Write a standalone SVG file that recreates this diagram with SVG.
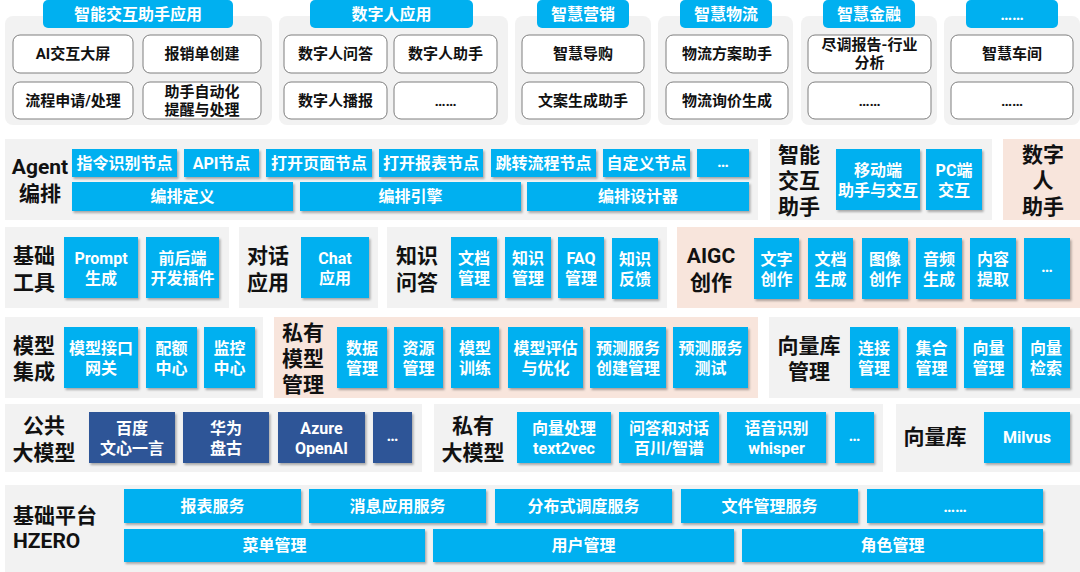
<svg xmlns="http://www.w3.org/2000/svg" width="1080" height="572" viewBox="0 0 1080 572">
<defs>
<filter id="sh" x="-10%" y="-10%" width="130%" height="140%">
<feDropShadow dx="1.5" dy="2" stdDeviation="1" flood-color="#000" flood-opacity="0.3"/>
</filter>
<style>
text{font-family:Roboto,"Noto Sans CJK SC",sans-serif;font-weight:bold;dominant-baseline:central;text-anchor:middle}
.pn{fill:#f2f2f2}
.pc{fill:#f8e5dc}
.hd{fill:#00b0f0}
.b{fill:#00b0f0;filter:url(#sh)}
.nv{fill:#2f5597;filter:url(#sh)}
.w{fill:#fff;stroke:#7f7f7f;stroke-width:1}
.tw{fill:#fff;font-size:16px}
.th{fill:#fff;font-size:16px}
.tk{fill:#111;font-size:15px}
.tl{fill:#111;font-size:21px}
.tls{text-anchor:start}
</style>
</defs>
<rect width="1080" height="572" fill="#fff"/>

<!-- ===== Application layer ===== -->
<g id="app-zhineng">
<rect class="pn" x="5" y="16" width="267" height="109" rx="8"/>
<rect class="hd" x="43" y="0" width="190" height="28" rx="5"/>
<text class="th" x="138" y="14">智能交互助手应用</text>
<rect class="w" x="13" y="35" width="120" height="38" rx="7"/><text class="tk" x="73" y="54">AI交互大屏</text>
<rect class="w" x="143" y="35" width="118" height="38" rx="7"/><text class="tk" x="202" y="54">报销单创建</text>
<rect class="w" x="13" y="82" width="120" height="37" rx="7"/><text class="tk" x="73" y="100.5">流程申请/处理</text>
<rect class="w" x="143" y="82" width="118" height="37" rx="7"/><text class="tk" x="202" y="100.5"><tspan x="202" dy="-9">助手自动化</tspan><tspan x="202" dy="18">提醒与处理</tspan></text>
</g>
<g id="app-shuziren">
<rect class="pn" x="279" y="16" width="229" height="109" rx="8"/>
<rect class="hd" x="310" y="0" width="163" height="28" rx="5"/>
<text class="th" x="391.5" y="14">数字人应用</text>
<rect class="w" x="284" y="35" width="103" height="38" rx="7"/><text class="tk" x="335.5" y="54">数字人问答</text>
<rect class="w" x="394" y="35" width="103" height="38" rx="7"/><text class="tk" x="445.5" y="54">数字人助手</text>
<rect class="w" x="284" y="82" width="103" height="37" rx="7"/><text class="tk" x="335.5" y="100.5">数字人播报</text>
<rect class="w" x="394" y="82" width="103" height="37" rx="7"/><text class="tk" x="445.5" y="100.5">……</text>
</g>
<g id="app-yingxiao">
<rect class="pn" x="515" y="16" width="136" height="109" rx="8"/>
<rect class="hd" x="537" y="0" width="92" height="28" rx="5"/>
<text class="th" x="583" y="14">智慧营销</text>
<rect class="w" x="522" y="35" width="122" height="38" rx="7"/><text class="tk" x="583" y="54">智慧导购</text>
<rect class="w" x="522" y="82" width="122" height="37" rx="7"/><text class="tk" x="583" y="100.5">文案生成助手</text>
</g>
<g id="app-wuliu">
<rect class="pn" x="658" y="16" width="135" height="109" rx="8"/>
<rect class="hd" x="680" y="0" width="92" height="28" rx="5"/>
<text class="th" x="726" y="14">智慧物流</text>
<rect class="w" x="666" y="35" width="122" height="38" rx="7"/><text class="tk" x="727" y="54">物流方案助手</text>
<rect class="w" x="666" y="82" width="122" height="37" rx="7"/><text class="tk" x="727" y="100.5">物流询价生成</text>
</g>
<g id="app-jinrong">
<rect class="pn" x="801" y="16" width="136" height="109" rx="8"/>
<rect class="hd" x="823" y="0" width="92" height="28" rx="5"/>
<text class="th" x="869" y="14">智慧金融</text>
<rect class="w" x="808" y="35" width="123" height="38" rx="7"/><text class="tk" x="869.5" y="54"><tspan x="869.5" dy="-9">尽调报告-行业</tspan><tspan x="869.5" dy="18">分析</tspan></text>
<rect class="w" x="808" y="82" width="123" height="37" rx="7"/><text class="tk" x="869.5" y="100.5">……</text>
</g>
<g id="app-more">
<rect class="pn" x="944" y="16" width="136" height="109" rx="8"/>
<rect class="hd" x="966" y="0" width="92" height="28" rx="5"/>
<text class="th" x="1012" y="14">……</text>
<rect class="w" x="951" y="35" width="122" height="38" rx="7"/><text class="tk" x="1012" y="54">智慧车间</text>
<rect class="w" x="951" y="82" width="122" height="37" rx="7"/><text class="tk" x="1012" y="100.5">……</text>
</g>

<!-- ===== Agent row ===== -->
<g id="agent">
<rect class="pn" x="5" y="139" width="753" height="81"/>
<text class="tl" x="40" y="167">Agent</text>
<text class="tl" x="40" y="194">编排</text>
<rect class="b" x="72" y="149" width="105" height="28"/><text class="tw" x="124.5" y="163">指令识别节点</text>
<rect class="b" x="184" y="149" width="75" height="28"/><text class="tw" x="221.5" y="163">API节点</text>
<rect class="b" x="266" y="149" width="106" height="28"/><text class="tw" x="319" y="163">打开页面节点</text>
<rect class="b" x="379" y="149" width="104" height="28"/><text class="tw" x="431" y="163">打开报表节点</text>
<rect class="b" x="491" y="149" width="105" height="28"/><text class="tw" x="543.5" y="163">跳转流程节点</text>
<rect class="b" x="603" y="149" width="87" height="28"/><text class="tw" x="646.5" y="163">自定义节点</text>
<rect class="b" x="697" y="149" width="52" height="28"/><text class="tw" x="723" y="161">…</text>
<rect class="b" x="72" y="182" width="221" height="29"/><text class="tw" x="182.5" y="196.5">编排定义</text>
<rect class="b" x="300" y="182" width="221" height="29"/><text class="tw" x="410.5" y="196.5">编排引擎</text>
<rect class="b" x="527" y="182" width="222" height="29"/><text class="tw" x="638" y="196.5">编排设计器</text>
</g>
<g id="zhineng-zhushou">
<rect class="pn" x="770" y="139" width="222" height="81"/>
<text class="tl" x="799" y="155">智能</text>
<text class="tl" x="799" y="181">交互</text>
<text class="tl" x="799" y="207">助手</text>
<rect class="b" x="836" y="149" width="84" height="61"/><text class="tw" x="878" y="179.5"><tspan x="878" dy="-10">移动端</tspan><tspan x="878" dy="20">助手与交互</tspan></text>
<rect class="b" x="926" y="149" width="56" height="61"/><text class="tw" x="954" y="179.5"><tspan x="954" dy="-10">PC端</tspan><tspan x="954" dy="20">交互</tspan></text>
</g>
<g id="shuziren-zhushou">
<rect class="pc" x="1003" y="139" width="77" height="81"/>
<text class="tl" x="1043" y="155">数字</text>
<text class="tl" x="1043" y="181">人</text>
<text class="tl" x="1043" y="207">助手</text>
</g>

<!-- ===== Row 3 ===== -->
<g id="jichu-gongju">
<rect class="pn" x="5" y="227" width="224" height="81"/>
<text class="tl" x="34" y="256">基础</text>
<text class="tl" x="34" y="283">工具</text>
<rect class="b" x="64" y="237" width="74" height="61"/><text class="tw" x="101" y="267.5"><tspan x="101" dy="-10">Prompt</tspan><tspan x="101" dy="20">生成</tspan></text>
<rect class="b" x="146" y="237" width="73" height="61"/><text class="tw" x="182.5" y="267.5"><tspan x="182.5" dy="-10">前后端</tspan><tspan x="182.5" dy="20">开发插件</tspan></text>
</g>
<g id="duihua">
<rect class="pn" x="239" y="227" width="139" height="81"/>
<text class="tl" x="268" y="256">对话</text>
<text class="tl" x="268" y="283">应用</text>
<rect class="b" x="301" y="237" width="68" height="61"/><text class="tw" x="335" y="267.5"><tspan x="335" dy="-10">Chat</tspan><tspan x="335" dy="20">应用</tspan></text>
</g>
<g id="zhishi">
<rect class="pn" x="387" y="227" width="280" height="81"/>
<text class="tl" x="417" y="256">知识</text>
<text class="tl" x="417" y="283">问答</text>
<rect class="b" x="451" y="237" width="46" height="61"/><text class="tw" x="474" y="267.5"><tspan x="474" dy="-10">文档</tspan><tspan x="474" dy="20">管理</tspan></text>
<rect class="b" x="505" y="237" width="46" height="61"/><text class="tw" x="528" y="267.5"><tspan x="528" dy="-10">知识</tspan><tspan x="528" dy="20">管理</tspan></text>
<rect class="b" x="558" y="237" width="46" height="61"/><text class="tw" x="581" y="267.5"><tspan x="581" dy="-10">FAQ</tspan><tspan x="581" dy="20">管理</tspan></text>
<rect class="b" x="612" y="238" width="46" height="61"/><text class="tw" x="635" y="268.5"><tspan x="635" dy="-10">知识</tspan><tspan x="635" dy="20">反馈</tspan></text>
</g>
<g id="aigc">
<rect class="pc" x="677" y="227" width="403" height="81"/>
<text class="tl" x="711" y="256">AIGC</text>
<text class="tl" x="711" y="283">创作</text>
<rect class="b" x="754" y="238" width="45" height="61"/><text class="tw" x="776.5" y="268.5"><tspan x="776.5" dy="-10">文字</tspan><tspan x="776.5" dy="20">创作</tspan></text>
<rect class="b" x="808" y="238" width="45" height="61"/><text class="tw" x="830.5" y="268.5"><tspan x="830.5" dy="-10">文档</tspan><tspan x="830.5" dy="20">生成</tspan></text>
<rect class="b" x="862" y="238" width="46" height="61"/><text class="tw" x="885" y="268.5"><tspan x="885" dy="-10">图像</tspan><tspan x="885" dy="20">创作</tspan></text>
<rect class="b" x="916" y="238" width="46" height="61"/><text class="tw" x="939" y="268.5"><tspan x="939" dy="-10">音频</tspan><tspan x="939" dy="20">生成</tspan></text>
<rect class="b" x="970" y="238" width="46" height="61"/><text class="tw" x="993" y="268.5"><tspan x="993" dy="-10">内容</tspan><tspan x="993" dy="20">提取</tspan></text>
<rect class="b" x="1024" y="238" width="46" height="61"/><text class="tw" x="1047" y="266">…</text>
</g>

<!-- ===== Row 4 ===== -->
<g id="moxing-jicheng">
<rect class="pn" x="5" y="317" width="258" height="81"/>
<text class="tl" x="34" y="346">模型</text>
<text class="tl" x="34" y="372">集成</text>
<rect class="b" x="64" y="327" width="74" height="61"/><text class="tw" x="101" y="357.5"><tspan x="101" dy="-10">模型接口</tspan><tspan x="101" dy="20">网关</tspan></text>
<rect class="b" x="146" y="327" width="51" height="61"/><text class="tw" x="171.5" y="357.5"><tspan x="171.5" dy="-10">配额</tspan><tspan x="171.5" dy="20">中心</tspan></text>
<rect class="b" x="204" y="327" width="51" height="61"/><text class="tw" x="229.5" y="357.5"><tspan x="229.5" dy="-10">监控</tspan><tspan x="229.5" dy="20">中心</tspan></text>
</g>
<g id="siyou-moxing-guanli">
<rect class="pc" x="274" y="317" width="484" height="81"/>
<text class="tl" x="303" y="333">私有</text>
<text class="tl" x="303" y="359">模型</text>
<text class="tl" x="303" y="385">管理</text>
<rect class="b" x="337" y="327" width="50" height="61"/><text class="tw" x="362" y="357.5"><tspan x="362" dy="-10">数据</tspan><tspan x="362" dy="20">管理</tspan></text>
<rect class="b" x="394" y="327" width="49" height="61"/><text class="tw" x="418.5" y="357.5"><tspan x="418.5" dy="-10">资源</tspan><tspan x="418.5" dy="20">管理</tspan></text>
<rect class="b" x="451" y="327" width="48" height="61"/><text class="tw" x="475" y="357.5"><tspan x="475" dy="-10">模型</tspan><tspan x="475" dy="20">训练</tspan></text>
<rect class="b" x="508" y="327" width="75" height="61"/><text class="tw" x="545.5" y="357.5"><tspan x="545.5" dy="-10">模型评估</tspan><tspan x="545.5" dy="20">与优化</tspan></text>
<rect class="b" x="590" y="327" width="76" height="61"/><text class="tw" x="628" y="357.5"><tspan x="628" dy="-10">预测服务</tspan><tspan x="628" dy="20">创建管理</tspan></text>
<rect class="b" x="673" y="327" width="75" height="61"/><text class="tw" x="710.5" y="357.5"><tspan x="710.5" dy="-10">预测服务</tspan><tspan x="710.5" dy="20">测试</tspan></text>
</g>
<g id="xiangliangku-guanli">
<rect class="pn" x="769" y="317" width="311" height="81"/>
<text class="tl" x="809" y="346">向量库</text>
<text class="tl" x="809" y="372">管理</text>
<rect class="b" x="850" y="327" width="48" height="61"/><text class="tw" x="874" y="357.5"><tspan x="874" dy="-10">连接</tspan><tspan x="874" dy="20">管理</tspan></text>
<rect class="b" x="907" y="327" width="49" height="61"/><text class="tw" x="931.5" y="357.5"><tspan x="931.5" dy="-10">集合</tspan><tspan x="931.5" dy="20">管理</tspan></text>
<rect class="b" x="964" y="327" width="49" height="61"/><text class="tw" x="988.5" y="357.5"><tspan x="988.5" dy="-10">向量</tspan><tspan x="988.5" dy="20">管理</tspan></text>
<rect class="b" x="1022" y="327" width="48" height="61"/><text class="tw" x="1046" y="357.5"><tspan x="1046" dy="-10">向量</tspan><tspan x="1046" dy="20">检索</tspan></text>
</g>

<!-- ===== Row 5 ===== -->
<g id="gonggong-damoxing">
<rect class="pn" x="5" y="404" width="417" height="68"/>
<text class="tl" x="44" y="426">公共</text>
<text class="tl" x="44" y="453">大模型</text>
<rect class="nv" x="89" y="412" width="86" height="51"/><text class="tw" x="132" y="437.5"><tspan x="132" dy="-10">百度</tspan><tspan x="132" dy="20">文心一言</tspan></text>
<rect class="nv" x="183" y="412" width="86" height="51"/><text class="tw" x="226" y="437.5"><tspan x="226" dy="-10">华为</tspan><tspan x="226" dy="20">盘古</tspan></text>
<rect class="nv" x="278" y="412" width="87" height="51"/><text class="tw" x="321.5" y="437.5"><tspan x="321.5" dy="-10">Azure</tspan><tspan x="321.5" dy="20">OpenAI</tspan></text>
<rect class="nv" x="373" y="412" width="39" height="51"/><text class="tw" x="392.5" y="435">…</text>
</g>
<g id="siyou-damoxing">
<rect class="pn" x="434" y="404" width="449" height="68"/>
<text class="tl" x="473" y="426">私有</text>
<text class="tl" x="473" y="453">大模型</text>
<rect class="b" x="517" y="412" width="94" height="51"/><text class="tw" x="564" y="437.5"><tspan x="564" dy="-10">向量处理</tspan><tspan x="564" dy="20">text2vec</tspan></text>
<rect class="b" x="619" y="412" width="100" height="51"/><text class="tw" x="669" y="437.5"><tspan x="669" dy="-10">问答和对话</tspan><tspan x="669" dy="20">百川/智谱</tspan></text>
<rect class="b" x="727" y="412" width="99" height="51"/><text class="tw" x="776.5" y="437.5"><tspan x="776.5" dy="-10">语音识别</tspan><tspan x="776.5" dy="20">whisper</tspan></text>
<rect class="b" x="835" y="412" width="39" height="51"/><text class="tw" x="854.5" y="435">…</text>
</g>
<g id="xiangliangku">
<rect class="pn" x="896" y="404" width="184" height="68"/>
<text class="tl" x="935" y="437">向量库</text>
<rect class="b" x="984" y="412" width="86" height="51"/><text class="tw" x="1027" y="437.5">Milvus</text>
</g>

<!-- ===== Row 6 ===== -->
<g id="jichu-pingtai">
<rect class="pn" x="5" y="485" width="1075" height="87"/>
<text class="tl tls" x="13" y="516">基础平台</text>
<text class="tl tls" x="13" y="541">HZERO</text>
<rect class="b" x="124" y="489" width="177" height="34"/><text class="tw" x="212.5" y="506">报表服务</text>
<rect class="b" x="309" y="489" width="177" height="34"/><text class="tw" x="397.5" y="506">消息应用服务</text>
<rect class="b" x="495" y="489" width="177" height="34"/><text class="tw" x="583.5" y="506">分布式调度服务</text>
<rect class="b" x="681" y="489" width="177" height="34"/><text class="tw" x="769.5" y="506">文件管理服务</text>
<rect class="b" x="867" y="489" width="176" height="34"/><text class="tw" x="955" y="506">……</text>
<rect class="b" x="124" y="529" width="301" height="33"/><text class="tw" x="274.5" y="545.5">菜单管理</text>
<rect class="b" x="433" y="529" width="301" height="33"/><text class="tw" x="583.5" y="545.5">用户管理</text>
<rect class="b" x="742" y="529" width="301" height="33"/><text class="tw" x="892.5" y="545.5">角色管理</text>
</g>
<g id="connectors"/>
</svg>
